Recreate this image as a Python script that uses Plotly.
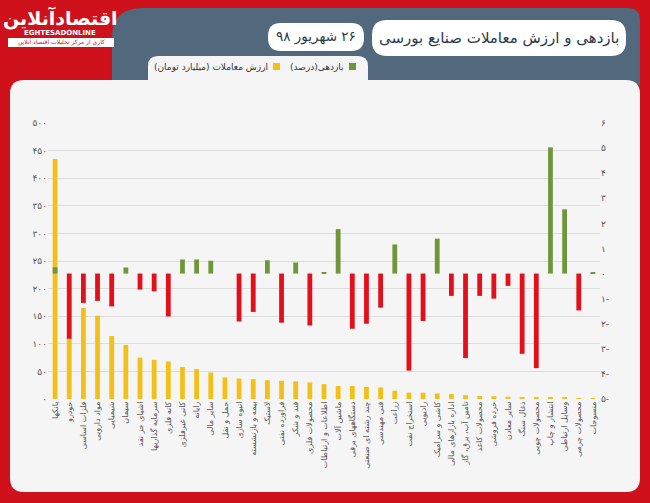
import plotly.graph_objects as go

categories = [
    "بانکها", "خودرو", "فلزات اساسی", "مواد دارویی", "شیمیایی", "سیمان",
    "اشیای جز نقد", "سرمایه گذاریها", "کانه فلزی", "کانی غیرفلزی", "رایانه",
    "سایر مالی", "حمل و نقل", "انبوه سازی", "بیمه و بازنشسته", "لاستیک",
    "فراورده نفتی", "قند و شکر", "محصولات فلزی", "اطلاعات و ارتباطات",
    "ماشین آلات", "دستگاههای برقی", "چند رشته ای صنعتی", "فنی مهندسی",
    "زراعت", "استخراج نفت", "رادیویی", "کاشی و سرامیک", "اداره بازارهای مالی",
    "تامین آب، برق، گاز", "محصولات کاغذ", "خرده فروشی", "سایر معادن",
    "ذغال سنگ", "محصولات چوبی", "انتشار و چاپ", "وسایل ارتباطی",
    "محصولات چرمی", "منسوجات",
]
trade_value = [435, 110, 165, 151, 114, 98, 75, 71, 68, 58, 54, 48, 39, 37, 36,
               34, 33, 32, 30, 27, 23.5, 23.5, 22, 21, 15, 11.5, 11.5, 10, 9, 7,
               5.5, 5, 4, 3.5, 3, 2.5, 2, 1.5, 1]
returns = [0.25, -2.6, -1.17, -1.09, -1.31, 0.24, -0.64, -0.71, -1.71, 0.56,
           0.56, 0.51, 0, -1.91, -1.53, 0.53, -1.96, 0.44, -2.07, 0.03, 1.77,
           -2.2, -2.0, -1.36, 1.16, -3.87, -1.89, 1.39, -0.89, -3.37, -0.89,
           -1.0, -0.49, -3.2, -3.77, 5.03, 2.56, -1.47, 0.05]

left_ticks = [0, 50, 100, 150, 200, 250, 300, 350, 400, 450, 500]
left_ticktext = ["۰", "۵۰", "۱۰۰", "۱۵۰", "۲۰۰", "۲۵۰", "۳۰۰", "۳۵۰", "۴۰۰", "۴۵۰", "۵۰۰"]
right_ticks = [-5, -4, -3, -2, -1, 0, 1, 2, 3, 4, 5, 6]
right_ticktext = ["۵-", "۴-", "۳-", "۲-", "۱-", "۰", "۱", "۲", "۳", "۴", "۵", "۶"]

RLM = "\u200f"
title_text = "بازدهی و ارزش معاملات صنایع بورسی"
date_text = "۲۶ شهریور ۹۸"
legend_return = "بازدهی(درصد)"
legend_value = "ارزش معاملات (میلیارد تومان)"

RED = "#cf111b"
SLATE = "#51687d"
PANEL = "#f5f5f5"
YELLOW = "#f3c019"
GREEN = "#6f963b"
BARRED = "#e3101c"
FONT = "DejaVu Sans"

W, H = 650, 503
L, R, T, B = 48, 50, 123, 104
PW, PH = W - L - R, H - T - B


def rtl(s):
    return RLM + s + RLM


def px(x):
    return (x - L) / PW


def py(y):
    return (H - B - y) / PH


def pt(x, y):
    return f"{px(x):.5f},{py(y):.5f}"


def rrect(x0, y0, x1, y1, r, top_only=False):
    s = f"M {pt(x0, y1 if top_only else y1 - r)} "
    s += f"L {pt(x0, y0 + r)} Q {pt(x0, y0)} {pt(x0 + r, y0)} "
    s += f"L {pt(x1 - r, y0)} Q {pt(x1, y0)} {pt(x1, y0 + r)} "
    if top_only:
        s += f"L {pt(x1, y1)} Z"
    else:
        s += f"L {pt(x1, y1 - r)} Q {pt(x1, y1)} {pt(x1 - r, y1)} "
        s += f"L {pt(x0 + r, y1)} Q {pt(x0, y1)} {pt(x0, y1 - r)} Z"
    return s


shapes = []


def add_path(path, fill, layer="below"):
    shapes.append(dict(type="path", xref="paper", yref="paper", path=path,
                       fillcolor=fill, line=dict(width=0), layer=layer))


def add_rect(x0, y0, x1, y1, fill, layer="below"):
    shapes.append(dict(type="rect", xref="paper", yref="paper",
                       x0=px(x0), x1=px(x1), y0=py(y1), y1=py(y0),
                       fillcolor=fill, line=dict(width=0), layer=layer))


# header slate area
add_path(f"M {pt(112, 85)} L {pt(112, 38)} Q {pt(112, 8)} {pt(142, 8)} "
         f"L {pt(628, 8)} Q {pt(640, 8)} {pt(640, 20)} L {pt(640, 85)} Z", SLATE)
# main panel
add_path(rrect(10, 80, 640, 492, 14), PANEL)
# legend tab
add_path(rrect(148, 56, 368, 84, 10, top_only=True), PANEL)
# title boxes
add_path(rrect(372, 20, 626, 56, 15), "#ffffff")
add_path(rrect(268, 23, 364, 51, 13), "#ffffff")
# logo strip
add_rect(8, 38, 114, 47, "#ffffff")
# legend squares
add_rect(349, 63, 356, 70, GREEN)
add_rect(273, 63, 280, 70, YELLOW)

annotations = [
    dict(x=px(499), y=py(38), text=rtl(title_text), font=dict(size=15, color="#2b3a4a", family=FONT)),
    dict(x=px(316), y=py(37), text=rtl(date_text), font=dict(size=13.5, color="#2b3a4a", family=FONT)),
    dict(x=px(346), y=py(66.5), text=rtl(legend_return), xanchor="right", font=dict(size=9, color="#333333", family=FONT)),
    dict(x=px(270), y=py(66.5), text=rtl(legend_value), xanchor="right", font=dict(size=9, color="#333333", family=FONT)),
    dict(x=px(60), y=py(18), text="<b>" + rtl("اقتصادآنلاین") + "</b>", font=dict(size=19, color="#ffffff", family=FONT)),
    dict(x=px(60), y=py(33), text="<b>EGHTESADONLINE</b>", font=dict(size=7, color="#ffffff", family=FONT)),
    dict(x=px(61), y=py(42.5), text=rtl("کاری از مرکز تحلیلات اقتصاد آنلاین"), font=dict(size=6, color=RED, family=FONT)),
]
for a in annotations:
    a.update(xref="paper", yref="paper", showarrow=False)
    a.setdefault("xanchor", "center")
    a.setdefault("yanchor", "middle")

fig = go.Figure()
fig.add_bar(x=categories, y=trade_value, marker=dict(color=YELLOW, line=dict(width=0)),
            width=0.34, offset=-0.17, name="ارزش معاملات")
fig.add_bar(x=categories, y=returns, yaxis="y2",
            marker=dict(color=[GREEN if v > 0 else BARRED for v in returns], line=dict(width=0)),
            width=0.34, offset=-0.17, name="بازدهی")

fig.update_layout(
    width=W, height=H,
    margin=dict(l=L, r=R, t=T, b=B),
    paper_bgcolor=RED, plot_bgcolor="rgba(0,0,0,0)",
    showlegend=False, barmode="overlay",
    font=dict(family=FONT, color="#555555"),
    xaxis=dict(type="category", tickangle=-90, tickfont=dict(size=8, color="#555555"),
               showgrid=False, showline=False, ticks="", range=[-0.5, 38.5]),
    yaxis=dict(range=[0, 500], tickvals=left_ticks, ticktext=left_ticktext,
               tickfont=dict(size=9, color="#555555"), showgrid=True,
               gridcolor="#dcdcdc", gridwidth=1, zeroline=False, showline=False, ticks=""),
    yaxis2=dict(range=[-5, 6], tickvals=right_ticks, ticktext=right_ticktext,
                overlaying="y", side="right", showgrid=False, zeroline=False,
                tickfont=dict(size=9, color="#555555"), showline=False, ticks=""),
    shapes=shapes, annotations=annotations,
)

fig.write_html("out.html")
